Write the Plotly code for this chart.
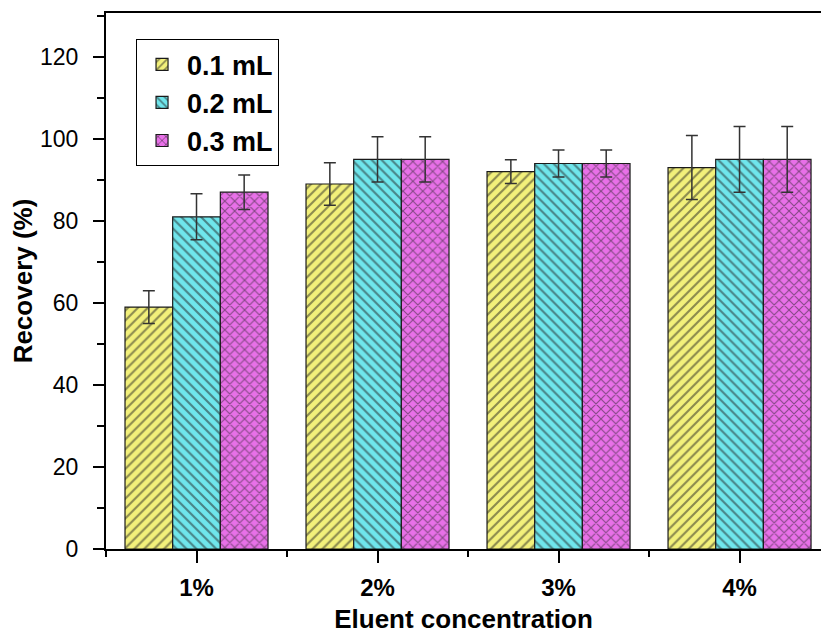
import plotly.graph_objects as go

categories = ["1%", "2%", "3%", "4%"]
series_names = ["0.1 mL", "0.2 mL", "0.3 mL"]
vals_01 = [59, 89, 92, 93]
err_01 = [4.0, 5.2, 2.9, 7.8]
vals_02 = [81, 95, 94, 95]
err_02 = [5.6, 5.5, 3.3, 8.0]
vals_03 = [87, 95, 94, 95]
err_03 = [4.2, 5.5, 3.3, 8.0]

colors = ["#F2F07A", "#6FE6EC", "#E870E8"]
shapes = ["/", "\\", "x"]

x_pos = list(range(len(categories)))

fig = go.Figure()
for name, vals, errs, col, shp in zip(series_names, [vals_01, vals_02, vals_03],
                                      [err_01, err_02, err_03], colors, shapes):
    fig.add_trace(go.Bar(
        x=x_pos, y=vals, name=name,
        marker=dict(color=col, line=dict(color="#1a1a1a", width=1.2),
                    pattern=dict(shape=shp, fillmode="overlay", fgcolor="#222222",
                                 size=7, solidity=0.3)),
        error_y=dict(type="data", array=errs, visible=True, color="#333333",
                     thickness=1.5, width=6),
    ))

FONT = "Liberation Sans, Arial, sans-serif"
fig.update_layout(
    width=821, height=634,
    margin=dict(l=106, r=0, t=13, b=85, autoexpand=False),
    paper_bgcolor="white", plot_bgcolor="white",
    barmode="group", bargap=0.21, bargroupgap=0,
    font=dict(family=FONT, color="black"),
    showlegend=True,
    legend=dict(x=0.042, y=0.951, xanchor="left", yanchor="top",
                bordercolor="black", borderwidth=1, bgcolor="white",
                font=dict(size=27, family=FONT, color="black", weight="bold"),
                tracegroupgap=0, itemwidth=40),
    xaxis=dict(
        range=[-0.5, 3.45], tickmode="array", tickvals=x_pos,
        ticktext=["<b>%s</b>" % c for c in categories],
        showline=True, linecolor="black", linewidth=2, mirror=True,
        ticks="outside", ticklen=12, tickwidth=1.5, tickcolor="black",
        ticklabelstandoff=4,
        minor=dict(tickmode="linear", tick0=0.5, dtick=1, ticks="outside",
                   ticklen=6, tickwidth=1.5, tickcolor="black"),
        showgrid=False, zeroline=False, automargin=False,
        tickfont=dict(size=24, family=FONT, color="black"),
        title=dict(text="<b>Eluent concentration</b>", standoff=10,
                   font=dict(size=26, family=FONT, color="black")),
    ),
    yaxis=dict(
        range=[0, 130.7], tickmode="linear", tick0=0, dtick=20,
        showline=True, linecolor="black", linewidth=2, mirror=False,
        ticks="outside", ticklen=11, tickwidth=1.5, tickcolor="black",
        ticklabelstandoff=10,
        minor=dict(dtick=10, ticks="outside", ticklen=7, tickwidth=1.5,
                   tickcolor="black"),
        showgrid=False, zeroline=False, automargin=False,
        tickfont=dict(size=23, family=FONT, color="black"),
        title=dict(text="<b>Recovery (%)</b>", standoff=0,
                   font=dict(size=26, family=FONT, color="black")),
    ),
)

fig.write_html("out.html",
               config={"displayModeBar": False},
               post_script="document.body.style.margin='0';"
                           "document.body.style.overflow='hidden';")
